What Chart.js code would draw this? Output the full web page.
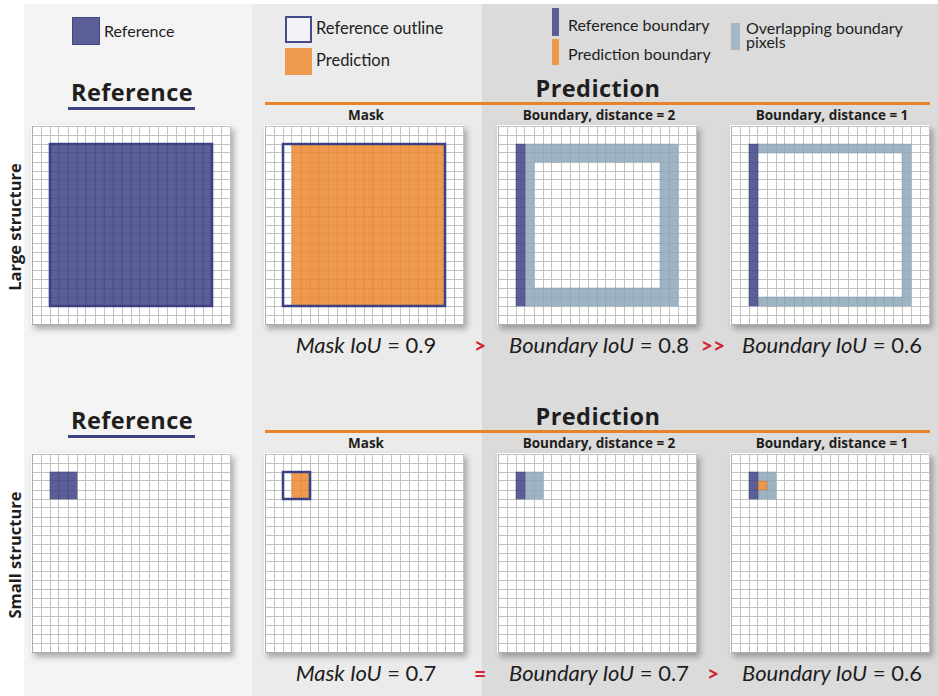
<!DOCTYPE html>
<html>
<head>
<meta charset="utf-8">
<script src="https://cdn.jsdelivr.net/npm/chart.js@4.4.0/dist/chart.umd.min.js"></script>
<style>
    body { margin: 0; width: 938px; height: 696px; position: relative; overflow: hidden; background: #fff; font-family: Lato, "Open Sans", sans-serif; color: #1e1e1e; }
    .band { position: absolute; top: 4px; bottom: 0; }
    .panel { position: absolute; width: 200px; height: 200px; background: #fff; box-shadow: 3px 4px 6px rgba(0, 0, 0, 0.3); }
    .t { position: absolute; line-height: 1; white-space: nowrap; }
    .sw { position: absolute; box-sizing: border-box; }
</style>
</head>
<body>
<div class="band" style="left:24px;width:228px;background:#f4f4f4"></div>
<div class="band" style="left:252px;width:230px;background:#ebebeb"></div>
<div class="band" style="left:482px;width:456px;background:#dbdbdb"></div>

<!-- legend swatches -->
<div class="sw" style="left:72px;top:17px;width:28px;height:28px;background:#5c5f95;border:1.5px solid #40468a"></div>
<div class="sw" style="left:285px;top:16px;width:27px;height:27px;background:#f3f3f7;border:2px solid #454b8b"></div>
<div class="sw" style="left:285px;top:48px;width:27px;height:27px;background:#ee9a4c"></div>
<div class="sw" style="left:552px;top:8px;width:7px;height:28px;background:#5c5f95"></div>
<div class="sw" style="left:552px;top:39px;width:7px;height:26px;background:#ee9a4c"></div>
<div class="sw" style="left:731px;top:23px;width:9px;height:27px;background:#a3b7c6"></div>

<canvas class="panel" id="p0" width="200" height="200" style="left:31px;top:125px"></canvas>
<canvas class="panel" id="p1" width="200" height="200" style="left:264px;top:125px"></canvas>
<canvas class="panel" id="p2" width="200" height="200" style="left:497px;top:125px"></canvas>
<canvas class="panel" id="p3" width="200" height="200" style="left:730px;top:125px"></canvas>
<canvas class="panel" id="p4" width="200" height="200" style="left:31px;top:453px"></canvas>
<canvas class="panel" id="p5" width="200" height="200" style="left:264px;top:453px"></canvas>
<canvas class="panel" id="p6" width="200" height="200" style="left:497px;top:453px"></canvas>
<canvas class="panel" id="p7" width="200" height="200" style="left:730px;top:453px"></canvas>

<script>
    // grid of 22 x 22 pixels, rects are [col0, row0, col1, row1] inclusive
    var gridCells = 22

    var largeRef = [2, 2, 19, 19]
    var largePred = [3, 2, 19, 19]
    var largeRefOnly = [[2, 2, 2, 19]]
    var largeOverlapD2 = [[3, 2, 3, 19], [4, 2, 17, 3], [4, 18, 17, 19], [18, 2, 19, 19]]
    var largeOverlapD1 = [[3, 2, 18, 2], [3, 19, 18, 19], [19, 2, 19, 19]]

    var smallRef = [2, 2, 4, 4]
    var smallPred = [3, 2, 4, 4]
    var smallRefOnly = [[2, 2, 2, 4]]
    var smallOverlapD2 = [[3, 2, 4, 4]]
    var smallOverlapD1 = [[3, 2, 4, 4]]
    var smallPredOnlyD1 = [[3, 3, 3, 3]]

    var colTitles = ["Mask", "Boundary, distance = 2", "Boundary, distance = 1"]
    var iouNames = ["Mask IoU", "Boundary IoU", "Boundary IoU"]
    var largeIoU = [0.9, 0.8, 0.6]
    var smallIoU = [0.7, 0.7, 0.6]
    var largeRel = [">", ">>"]
    var smallRel = ["=", ">"]
    var rowNames = ["Large structure", "Small structure"]

    var navyFill = "rgba(63, 67, 131, 0.85)"
    var navyLine = "#3c4282"
    var orangeFill = "rgba(235, 136, 47, 0.85)"
    var lightFill = "rgba(141, 167, 184, 0.85)"

    function cellsToBars(rects) {
        var out = []
        rects.forEach(function (r) {
            for (var c = r[0]; c <= r[2]; c++) {
                out.push({ x: c + 0.5, y: [r[1], r[3] + 1] })
            }
        })
        return out
    }

    function outline(r) {
        return [
            { x: r[0], y: r[1] }, { x: r[2] + 1, y: r[1] },
            { x: r[2] + 1, y: r[3] + 1 }, { x: r[0], y: r[3] + 1 }, { x: r[0], y: r[1] }
        ]
    }

    function makePanel(id, layers) {
        var datasets = layers.map(function (l) {
            if (l.line) {
                return {
                    type: "line", data: outline(l.line), borderColor: navyLine, borderWidth: 2.6,
                    pointRadius: 0, fill: false, tension: 0, borderCapStyle: "square",
                    borderJoinStyle: "miter", order: 0
                }
            }
            return {
                type: "bar", data: cellsToBars(l.cells), backgroundColor: l.color,
                borderColor: l.border || "rgba(0,0,0,0)", borderWidth: l.border ? 1 : 0,
                borderSkipped: false, grouped: false, barPercentage: 1, categoryPercentage: 1,
                order: l.order || 2
            }
        })
        var gridOpts = { color: "#c2c2c2", drawTicks: false, offset: false }
        new Chart(document.getElementById(id), {
            type: "bar",
            data: { datasets: datasets },
            options: {
                responsive: false,
                animation: false,
                events: [],
                layout: { padding: 1 },
                plugins: { legend: { display: false }, tooltip: { enabled: false } },
                scales: {
                    x: {
                        type: "linear", min: 0, max: gridCells, offset: false,
                        ticks: { display: false, stepSize: 1, maxTicksLimit: 40 },
                        grid: gridOpts, border: { color: "#adadad" }
                    },
                    y: {
                        type: "linear", reverse: true, min: 0, max: gridCells,
                        ticks: { display: false, stepSize: 1, maxTicksLimit: 40 },
                        grid: gridOpts, border: { color: "#adadad" }
                    }
                }
            }
        })
    }

    makePanel("p0", [{ cells: [largeRef], color: navyFill }, { line: largeRef }])
    makePanel("p1", [{ cells: [largePred], color: orangeFill }, { line: largeRef }])
    makePanel("p2", [{ cells: largeRefOnly, color: navyFill }, { cells: largeOverlapD2, color: lightFill }])
    makePanel("p3", [{ cells: largeRefOnly, color: navyFill }, { cells: largeOverlapD1, color: lightFill }])
    makePanel("p4", [{ cells: [smallRef], color: navyFill }])
    makePanel("p5", [{ cells: [smallPred], color: orangeFill }, { line: smallRef }])
    makePanel("p6", [{ cells: smallRefOnly, color: navyFill }, { cells: smallOverlapD2, color: lightFill }])
    makePanel("p7", [{ cells: smallRefOnly, color: navyFill }, { cells: smallOverlapD1, color: lightFill },
        { cells: smallPredOnlyD1, color: "rgba(240, 150, 70, 0.9)", border: "#e07f2a", order: 1 }])

    // ---- text ----
    function txt(html, x, baseline, size, style, align) {
        var d = document.createElement("div")
        d.className = "t"
        d.innerHTML = html
        d.style.fontSize = size + "px"
        d.style.top = (baseline - 0.888 * size) + "px"
        if (align === "center") {
            d.style.left = (x - 200) + "px"
            d.style.width = "400px"
            d.style.textAlign = "center"
        } else {
            d.style.left = x + "px"
        }
        if (style) d.style.cssText += style
        document.body.appendChild(d)
        return d
    }

    var bold = "font-family:'Open Sans',sans-serif;font-weight:700;"

    // legend
    txt("Reference", 104, 37.7, 16)
    txt("Reference outline", 316, 35, 16.5)
    txt("Prediction", 316, 66.7, 16.5)
    txt("Reference boundary", 568, 31.7, 16)
    txt("Prediction boundary", 568, 60, 16)
    txt("Overlapping boundary", 746, 34, 16)
    txt("pixels", 746, 48.5, 16)

    var panelCenters = [366, 599, 832]
    var rowOffsets = [0, 328]

    rowOffsets.forEach(function (dy, row) {
        // headers
        txt("Reference", 132, 101.7 + dy, 23.5, bold + "letter-spacing:0.4px;", "center")
        var ul = document.createElement("div")
        ul.className = "sw"
        ul.style.cssText += "left:68px;width:127px;height:3px;background:#3e4482;top:" + (106.5 + dy) + "px"
        document.body.appendChild(ul)

        txt("Prediction", 598, 97.5 + dy, 23.5, bold + "letter-spacing:0.4px;", "center")
        var rule = document.createElement("div")
        rule.className = "sw"
        rule.style.cssText += "left:265px;width:665px;height:3px;background:#e8832a;top:" + (101.5 + dy) + "px"
        document.body.appendChild(rule)

        colTitles.forEach(function (t, i) {
            txt(t, panelCenters[i], 120.7 + dy, 13.5, bold, "center")
        })

        var vals = row === 0 ? largeIoU : smallIoU
        var rels = row === 0 ? largeRel : smallRel
        iouNames.forEach(function (n, i) {
            txt("<i>" + n + "</i> = " + vals[i].toFixed(1), panelCenters[i], 354 + dy, 22, "", "center")
        })
        var relX = [480, 713]
        rels.forEach(function (r, i) {
            txt(r, relX[i], 353 + dy, 21, "color:#d2232e;font-weight:700;", "center")
        })

        // row label
        var lab = document.createElement("div")
        lab.className = "t"
        lab.textContent = rowNames[row]
        lab.style.cssText += bold + "font-size:16.5px;width:200px;text-align:center;left:" + (15 - 100) +
            "px;top:" + (227 + dy - 8) + "px;height:16px;transform:rotate(-90deg);"
        document.body.appendChild(lab)
    })
</script>
</body>
</html>
